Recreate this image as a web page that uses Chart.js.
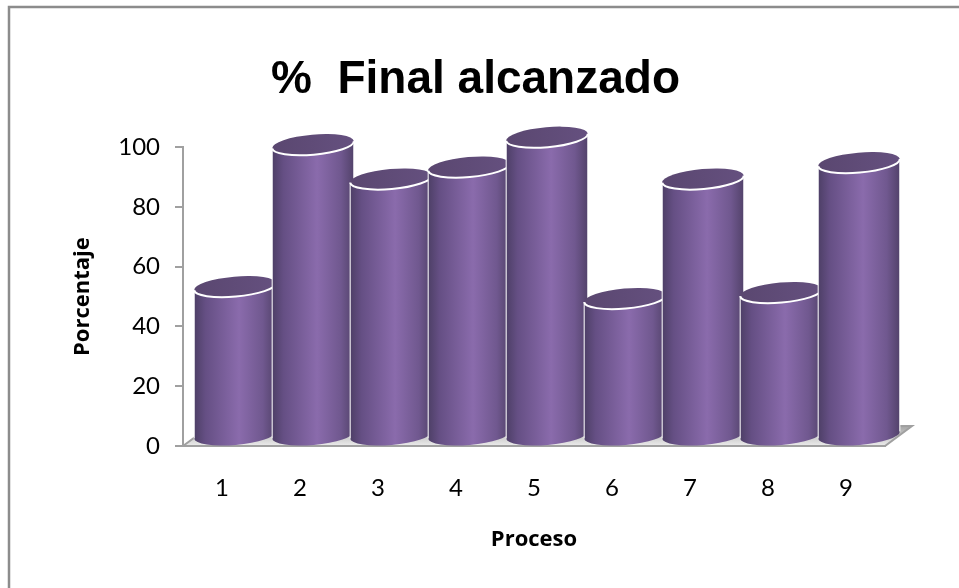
<!DOCTYPE html>
<html><head><meta charset="utf-8">
<style>html,body{margin:0;padding:0;background:#fff}#wrap{width:959px;height:588px}</style>
<script src="https://cdn.jsdelivr.net/npm/chart.js@4"></script>
</head><body><div id="wrap"><canvas id="c" width="959" height="588"></canvas></div>
<script>
const categories = ['1','2','3','4','5','6','7','8','9'];
const values = [50, 97.5, 86, 90, 100, 46, 86, 48, 91.5];
const yTicks = [0,20,40,60,80,100];
const titleText = '%  Final alcanzado';
const xTitle = 'Proceso';
const yTitle = 'Porcentaje';

const DEPTH_X = 13, DEPTH_Y = -10;
const TILT = -5 * Math.PI / 180, RY = 10;
const GREY = '#a0a0a0';

Chart.BarElement.prototype.draw = function (ctx) {
  const cx = this.x + DEPTH_X, top = this.y + DEPTH_Y, base = this.base + DEPTH_Y;
  const rx = this.width / 2;
  const dx = rx * Math.cos(TILT), dy = rx * Math.sin(TILT);
  const g = ctx.createLinearGradient(cx - rx, 0, cx + rx, 0);
  g.addColorStop(0, '#4d3f66');
  g.addColorStop(0.14, '#654f84');
  g.addColorStop(0.55, '#8a6bac');
  g.addColorStop(0.84, '#70588f');
  g.addColorStop(1, '#52426a');
  ctx.save();
  ctx.beginPath();
  ctx.ellipse(cx, base, rx, RY, TILT, 0, Math.PI, false);
  ctx.lineTo(cx - dx, top - dy);
  ctx.lineTo(cx + dx, top + dy);
  ctx.closePath();
  ctx.fillStyle = g;
  ctx.fill();
  ctx.strokeStyle = 'rgba(255,255,255,0.85)';
  ctx.lineWidth = 1.2;
  ctx.beginPath();
  ctx.moveTo(cx - dx, top - dy); ctx.lineTo(cx - dx, base - dy);
  ctx.moveTo(cx + dx, top + dy); ctx.lineTo(cx + dx, base + dy);
  ctx.stroke();
  const t = ctx.createLinearGradient(cx - rx, 0, cx + rx, 0);
  t.addColorStop(0, '#5a4770');
  t.addColorStop(1, '#65507f');
  ctx.beginPath();
  ctx.ellipse(cx, top, rx, RY, TILT, 0, Math.PI * 2);
  ctx.fillStyle = t;
  ctx.fill();
  ctx.beginPath();
  ctx.ellipse(cx, top, rx, RY, TILT, 0, Math.PI, false);
  ctx.strokeStyle = '#fff';
  ctx.lineWidth = 2;
  ctx.stroke();
  ctx.restore();
};

const scenePlugin = {
  id: 'scene',
  beforeDraw(chart) {
    const c = chart.ctx;
    c.save();
    c.fillStyle = '#fff';
    c.fillRect(0, 0, chart.width, chart.height);
    c.strokeStyle = '#8c8c8c';
    c.lineWidth = 2.5;
    c.beginPath();
    c.moveTo(9, chart.height);
    c.lineTo(9, 7);
    c.lineTo(chart.width, 7);
    c.stroke();
    c.restore();
  },
  beforeDatasetsDraw(chart) {
    const c = chart.ctx, a = chart.chartArea;
    const dx = 27, dy = -20;
    c.save();
    const g = c.createLinearGradient(0, a.bottom + dy, 0, a.bottom);
    g.addColorStop(0, '#a6a6a6');
    g.addColorStop(1, '#ececec');
    c.beginPath();
    c.moveTo(a.left, a.bottom);
    c.lineTo(a.left + dx, a.bottom + dy);
    c.lineTo(a.right + dx, a.bottom + dy);
    c.lineTo(a.right, a.bottom);
    c.closePath();
    c.fillStyle = g;
    c.fill();
    c.strokeStyle = GREY;
    c.lineWidth = 2;
    c.stroke();
    c.restore();
  }
};

new Chart(document.getElementById('c'), {
  type: 'bar',
  data: {
    labels: categories,
    datasets: [{
      data: values,
      backgroundColor: '#8a6bac',
      categoryPercentage: 1,
      barPercentage: 1.05,
      clip: false
    }]
  },
  plugins: [scenePlugin],
  options: {
    responsive: false,
    animation: false,
    layout: { padding: { left: 66, right: 74, top: 0, bottom: 0 } },
    plugins: {
      legend: { display: false },
      tooltip: { enabled: false },
      title: {
        display: true,
        text: titleText,
        color: '#000',
        font: { family: '"Liberation Sans"', size: 46, weight: 'bold', lineHeight: 1.2 },
        padding: { top: 53, bottom: 39 }
      }
    },
    scales: {
      x: {
        afterFit(s) { s.height = 142; },
        grid: { display: false, drawTicks: false },
        border: { display: true, color: GREY, width: 2 },
        ticks: { color: '#000', padding: 28, maxRotation: 0, autoSkip: false,
                 font: { family: 'Lato', size: 24 } },
        title: { display: true, text: xTitle, color: '#000',
                 font: { family: '"Open Sans"', size: 22, weight: 'bold' },
                 padding: { top: 0, bottom: 35 } }
      },
      y: {
        min: 0, max: 100,
        afterFit(s) { s.width = 117; },
        afterBuildTicks(s) { s.ticks = yTicks.map(v => ({ value: v })); },
        grid: { drawOnChartArea: false, drawTicks: true, tickLength: 8, color: GREY, lineWidth: 2 },
        border: { display: true, color: GREY, width: 2 },
        ticks: { color: '#000', padding: 15, font: { family: 'Lato', size: 24 } },
        title: { display: true, text: yTitle, color: '#000',
                 font: { family: '"Open Sans"', size: 22, weight: 'bold' },
                 padding: { top: 4, bottom: 0 } }
      }
    }
  }
});
</script></body></html>
